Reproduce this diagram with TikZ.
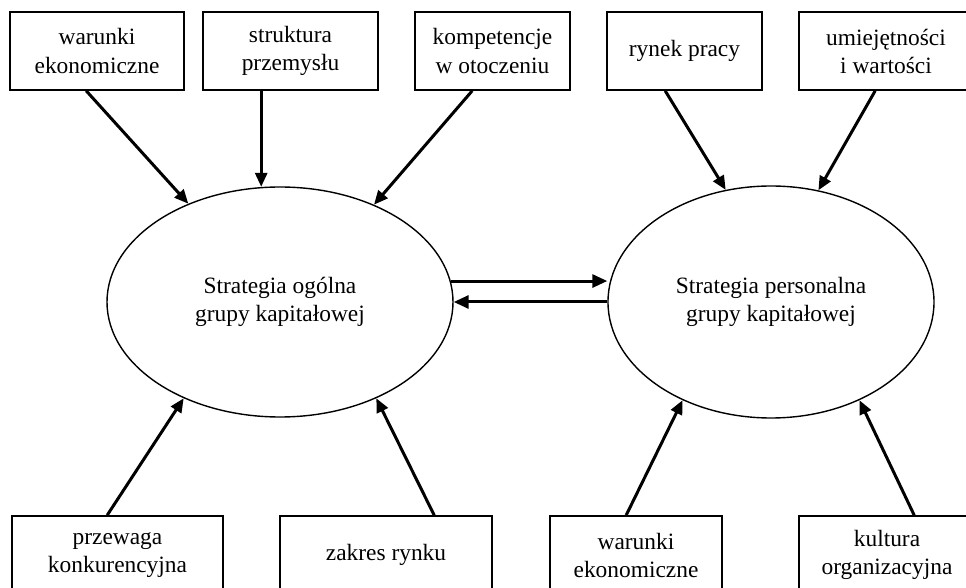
\documentclass[tikz,border=0pt]{standalone}
\usepackage{fontspec}
\setmainfont{Liberation Serif}
\usetikzlibrary{arrows.meta,calc,shapes.geometric}
\begin{document}
\begin{tikzpicture}[x=0.5pt,y=-0.5pt,
  txt/.style={font=\fontsize{11.7}{14}\selectfont},
  box/.style={txt,draw,line width=0.8pt,rectangle,inner sep=0pt,align=center},
  oval/.style={txt,draw,line width=0.7pt,ellipse,inner sep=0pt,align=center},
  arr/.style={line width=1.5pt,-{Triangle[length=7pt,width=6pt]}},
  arrb/.style={line width=1.5pt,-{Triangle[length=7.5pt,width=6.5pt]}}
]
\useasboundingbox (0,0) rectangle (966,588);
% top boxes
\node[box,minimum width=87pt,minimum height=39pt] (b1) at (97,51) {warunki\\ekonomiczne};
\node[box,minimum width=87.5pt,minimum height=39pt] (b2) at (290.5,51) {struktura\\przemysłu};
\node[box,minimum width=77.5pt,minimum height=39pt] (b3) at (492.5,51) {kompetencje\\w otoczeniu};
\node[box,minimum width=77.5pt,minimum height=39pt] (b4) at (684.5,51) {rynek pracy};
\node[box,minimum width=87pt,minimum height=39pt] (b5) at (886,51) {umiejętności\\i wartości};
% bottom boxes
\node[box,minimum width=105.5pt,minimum height=39pt] (c1) at (117.5,555) {przewaga\\konkurencyjna};
\node[box,minimum width=106pt,minimum height=39pt] (c2) at (386,555) {zakres rynku};
\node[box,minimum width=86pt,minimum height=39pt] (c3) at (636,555) {warunki\\ekonomiczne};
\node[box,minimum width=88pt,minimum height=39pt] (c4) at (887,555) {kultura\\organizacyjna};
% ellipses
\node[oval,minimum width=173pt,minimum height=115pt] (e1) at (280,302) {Strategia ogólna\\grupy kapitałowej};
\node[oval,minimum width=163pt,minimum height=116pt] (e2) at (771,302) {Strategia personalna\\grupy kapitałowej};
% top arrows
\coordinate (s2) at ($(b2.south west)+(59,0)$);
\draw[arr] ($(b1.south west)+(77,0)$) -- (e1.133);
\draw[arr] (s2) -- (s2 |- e1.98.8);
\draw[arr] ($(b3.south west)+(58,0)$) -- (e1.46);
\draw[arr] ($(b4.south west)+(59,0)$) -- (e2.112.9);
\draw[arr] ($(b5.south west)+(77,0)$) -- (e2.67.1);
% bottom arrows
\draw[arr] ($(c1.north west)+(96,0)$) -- (e1.225);
\draw[arr] ($(c2.north west)+(155,0)$) -- (e1.315.3);
\draw[arr] ($(c3.north west)+(77,0)$) -- (e2.228.1);
\draw[arr] ($(c4.north west)+(116,0)$) -- (e2.312.2);
% double arrows
\draw[arrb] (e1.7) -- (e1.7 -| e2.west);
\draw[arrb] (e2.west) -- (e1.east);
\end{tikzpicture}
\end{document}
